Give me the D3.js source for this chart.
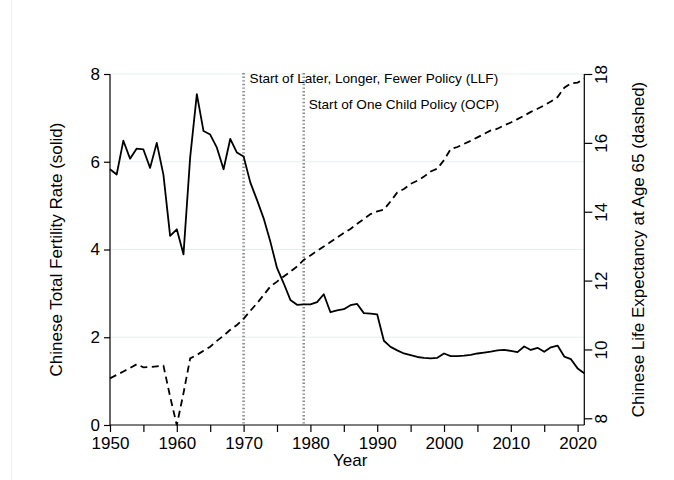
<!DOCTYPE html>
<style type="text/css">
  body { margin: 0; background: #fff; }
  svg text { font-family: "Liberation Sans", Arial, Helvetica, sans-serif; fill: #000; }
  .grid line { stroke: #e6efef; stroke-width: 1; }
  .axis path, .axis line { stroke: #000; stroke-width: 1.2; }
  .tfr { fill: none; stroke: #000; stroke-width: 1.8; stroke-linejoin: round; }
  .le65 { fill: none; stroke: #000; stroke-width: 1.8; stroke-dasharray: 7,4.5; }
  .policy { stroke: #8c8c8c; stroke-width: 2.6; stroke-dasharray: 1.4,2.2; }
</style>
<svg width="674" height="480"></svg>
<script src="https://cdn.jsdelivr.net/npm/d3@7"></script>
<script>

var years = d3.range(1950, 2022);

// total fertility rate, left axis (solid)
var fertility = [5.83, 5.71, 6.48, 6.07, 6.30, 6.28, 5.86, 6.43, 5.70, 4.31,
                 4.46, 3.89, 6.10, 7.54, 6.70, 6.62, 6.32, 5.83, 6.52, 6.21,
                 6.12, 5.53, 5.13, 4.71, 4.18, 3.58, 3.23, 2.85, 2.74, 2.75,
                 2.75, 2.80, 2.98, 2.57, 2.61, 2.64, 2.73, 2.76, 2.55, 2.54,
                 2.52, 1.92, 1.78, 1.70, 1.63, 1.59, 1.55, 1.53, 1.52, 1.53,
                 1.63, 1.57, 1.57, 1.58, 1.60, 1.63, 1.65, 1.67, 1.70, 1.71,
                 1.69, 1.66, 1.79, 1.71, 1.76, 1.67, 1.77, 1.81, 1.56, 1.50,
                 1.29, 1.18];

// life expectancy at 65, right axis (dashed)
var lifeExp65 = [9.16, 9.26, 9.36, 9.46, 9.57, 9.48, 9.49, 9.51, 9.53, 8.63,
                 7.80, 8.73, 9.74, 9.84, 9.96, 10.08, 10.25, 10.40, 10.57, 10.71,
                 10.89, 11.12, 11.34, 11.58, 11.83, 11.97, 12.12, 12.26, 12.41, 12.60,
                 12.73, 12.86, 12.99, 13.12, 13.25, 13.38, 13.50, 13.65, 13.79, 13.93,
                 14.01, 14.06, 14.30, 14.56, 14.66, 14.81, 14.90, 15.02, 15.17, 15.25,
                 15.50, 15.82, 15.88, 15.97, 16.06, 16.16, 16.26, 16.36, 16.41, 16.51,
                 16.59, 16.69, 16.79, 16.90, 16.99, 17.09, 17.20, 17.33, 17.60, 17.73,
                 17.75, 17.86];

var policyYears = [1970, 1979];
var policyLabels = ["Start of Later, Longer, Fewer Policy (LLF)", "Start of One Child Policy (OCP)"];

var leftTicks = [0, 2, 4, 6, 8];
var rightTicks = [8, 10, 12, 14, 16, 18];
var xTicks = d3.range(1950, 2021, 5);

var svg = d3.select("svg"),
    margin = {top: 74, right: 89.7, bottom: 55, left: 110},
    width = +svg.attr("width") - margin.left - margin.right,
    height = +svg.attr("height") - margin.top - margin.bottom;

// faint outer frame edge
svg.append("rect")
    .attr("x", 11.5).attr("y", -10)
    .attr("width", 700).attr("height", 520)
    .attr("fill", "none").attr("stroke", "#efefef");

var g = svg.append("g").attr("transform", "translate(" + margin.left + "," + margin.top + ")");

var x = d3.scaleLinear().domain([1950, 2021]).range([0, width]);
var y = d3.scaleLinear().domain([0, 8]).range([height, 0]);
var y2 = d3.scaleLinear().domain([8, 18]).range([height - 6.7, 0]);

// grid
g.append("g").attr("class", "grid")
  .selectAll("line")
  .data(leftTicks.slice(1))
  .enter().append("line")
    .attr("x1", 0).attr("x2", width)
    .attr("y1", function(d) { return y(d); })
    .attr("y2", function(d) { return y(d); });

// policy lines
g.selectAll(".policy")
  .data(policyYears)
  .enter().append("line")
    .attr("class", "policy")
    .attr("x1", function(d) { return x(d); })
    .attr("x2", function(d) { return x(d); })
    .attr("y1", -1).attr("y2", height);

g.selectAll(".policy-label")
  .data(policyLabels)
  .enter().append("text")
    .attr("class", "policy-label")
    .attr("x", function(d, i) { return x(policyYears[i]) + (i == 0 ? 6 : 5); })
    .attr("y", function(d, i) { return i == 0 ? 9.3 : 35.3; })
    .style("font-size", "13.6px")
    .text(function(d) { return d; });

var line1 = d3.line()
    .x(function(d, i) { return x(years[i]); })
    .y(function(d) { return y(d); });

var line2 = d3.line()
    .x(function(d, i) { return x(years[i]); })
    .y(function(d) { return y2(d); });

g.append("path").datum(lifeExp65).attr("class", "le65").attr("d", line2);
g.append("path").datum(fertility).attr("class", "tfr").attr("d", line1);

// axes
var ax = g.append("g").attr("class", "axis")
    .attr("transform", "translate(0," + height + ")")
    .call(d3.axisBottom(x).tickValues(xTicks).tickSize(7).tickSizeOuter(0).tickPadding(5)
      .tickFormat(function(d) { return d % 10 == 0 ? d : ""; }));
ax.selectAll("text").style("font-size", "17px");

var ay = g.append("g").attr("class", "axis")
    .call(d3.axisLeft(y).tickValues(leftTicks).tickSize(6).tickSizeOuter(0).tickPadding(4));
ay.selectAll("text").style("font-size", "17px");

var ay2 = g.append("g").attr("class", "axis")
    .attr("transform", "translate(" + width + ",0)")
    .call(d3.axisRight(y2).tickValues(rightTicks).tickSize(8).tickSizeOuter(0));
ay2.select(".domain").attr("d", "M0," + height + "V0");
ay2.selectAll("text")
    .attr("x", 0).attr("dy", 0)
    .attr("text-anchor", "middle")
    .attr("transform", "translate(22.4,0) rotate(-90)")
    .style("font-size", "17px");

ax.select(".domain").attr("d", "M0,0H" + width);
ay.select(".domain").attr("d", "M0," + height + "V0");

// titles
g.append("text")
    .attr("x", width / 2 + 3)
    .attr("y", height + 41)
    .attr("text-anchor", "middle")
    .style("font-size", "17px")
    .text("Year");

g.append("text")
    .attr("transform", "translate(-48," + (height / 2) + ") rotate(-90)")
    .attr("text-anchor", "middle")
    .style("font-size", "17px")
    .text("Chinese Total Fertility Rate (solid)");

g.append("text")
    .attr("transform", "translate(" + (width + 59.5) + "," + (height / 2) + ") rotate(-90)")
    .attr("text-anchor", "middle")
    .style("font-size", "17px")
    .text("Chinese Life Expectancy at Age 65 (dashed)");

</script>
